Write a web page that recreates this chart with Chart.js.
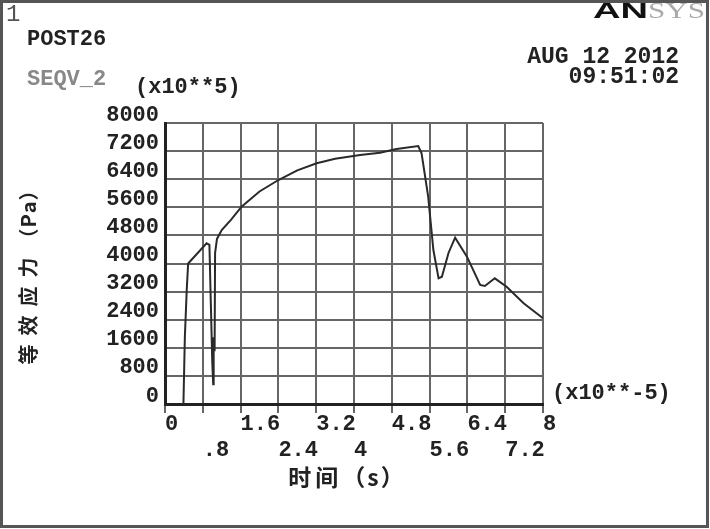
<!DOCTYPE html>
<html>
<head>
<meta charset="utf-8">
<script src="https://cdn.jsdelivr.net/npm/chart.js@4/dist/chart.umd.min.js"></script>
<style>
  body { margin: 0; background: #fff; }
  canvas { display: block; }
</style>
</head>
<body>
<canvas id="seqvChart" width="710" height="529"></canvas>
<script>
// time (x10**-5 s) and SEQV (x10**5 Pa)
const timeVals = [0.39, 0.42, 0.46, 0.49, 0.88, 0.94, 0.97, 1.00, 1.02, 1.03, 1.05, 1.06, 1.10, 1.20,
  1.40, 1.62, 2.0, 2.4, 2.8, 3.21, 3.6, 4.13, 4.55, 4.9, 5.36, 5.43, 5.57, 5.68, 5.79, 5.86, 6.0,
  6.14, 6.39, 6.67, 6.77, 6.98, 7.23, 7.59, 8.0];
const seqvVals = [0, 1900, 3250, 4000, 4575, 4530, 2870, 1200, 560, 1900, 1500, 4300, 4700, 4950,
  5250, 5617, 6050, 6377, 6650, 6853, 6980, 7089, 7155, 7260, 7345, 7137, 5902, 4384, 3578, 3624, 4300,
  4735, 4194, 3388, 3359, 3578, 3340, 2867, 2440];

const xTickVals = [0, 0.8, 1.6, 2.4, 3.2, 4, 4.8, 5.6, 6.4, 7.2, 8];
const xTickLabels = ["0", ".8", "1.6", "2.4", "3.2", "4", "4.8", "5.6", "6.4", "7.2", "8"];
const yTickVals = [0, 800, 1600, 2400, 3200, 4000, 4800, 5600, 6400, 7200, 8000];
const yTickLabels = ["0", "800", "1600", "2400", "3200", "4000", "4800", "5600", "6400", "7200", "8000"];

const mono = '"Liberation Mono", "Courier New", monospace';
const cjk = '"Noto Sans CJK SC", sans-serif';

function fillScaled(ctx, text, x, y, w) {
  const m = ctx.measureText(text).width;
  ctx.save();
  ctx.translate(x, y);
  ctx.scale(w / m, 1);
  ctx.fillText(text, 0, 0);
  ctx.restore();
}

// draws [text, spacing] pieces one char at a time, centred on 0
function fillSpaced(ctx, pieces) {
  let total = 0;
  pieces.forEach(([t, sp]) => {
    for (const ch of t) total += ctx.measureText(ch).width + sp;
  });
  let x = -total / 2;
  ctx.textAlign = "left";
  pieces.forEach(([t, sp]) => {
    for (const ch of t) {
      ctx.fillText(ch, x, 0);
      x += ctx.measureText(ch).width + sp;
    }
  });
}

const annot = {
  id: "annot",
  afterDraw(chart) {
    const ctx = chart.ctx;
    ctx.save();
    // frame
    ctx.strokeStyle = "#555";
    ctx.lineWidth = 3;
    ctx.strokeRect(1.5, 1.5, 706, 525);

    ctx.textBaseline = "middle";
    ctx.textAlign = "left";
    ctx.fillStyle = "#555";
    ctx.font = "24px " + mono;
    ctx.fillText("1", 6, 15);

    ctx.fillStyle = "#222";
    ctx.font = "bold 22px " + mono;
    ctx.fillText("POST26", 27, 39);
    ctx.fillText("(x10**5)", 135, 87);
    ctx.fillText("(x10**-5)", 552, 393);
    ctx.fillStyle = "#888";
    ctx.fillText("SEQV_2", 27, 79);

    ctx.fillStyle = "#222";
    ctx.textAlign = "right";
    ctx.font = "bold 23px " + mono;
    ctx.fillText("AUG 12 2012", 679, 57);
    ctx.fillText("09:51:02", 679, 77);

    // logo
    ctx.textAlign = "left";
    ctx.textBaseline = "alphabetic";
    ctx.fillStyle = "#111";
    ctx.font = "bold 22px 'Liberation Sans', sans-serif";
    fillScaled(ctx, "AN", 593, 18, 55);
    ctx.fillStyle = "#aaa";
    ctx.font = "24px 'Liberation Serif', serif";
    fillScaled(ctx, "SYS", 648, 18, 57);

    // axis titles
    ctx.fillStyle = "#222";
    ctx.textBaseline = "middle";
    ctx.font = "bold 23px " + cjk;
    ctx.save();
    ctx.translate(347, 477);
    fillSpaced(ctx, [["时间", 4], ["（s）", 2]]);
    ctx.restore();
    ctx.font = "bold 20px " + cjk;
    ctx.save();
    ctx.translate(28, 272);
    ctx.rotate(-Math.PI / 2);
    fillSpaced(ctx, [["等效应力", 9], ["（Pa）", 1]]);
    ctx.restore();
    ctx.restore();
  }
};

const points = timeVals.map((t, i) => ({ x: t, y: seqvVals[i] }));

new Chart(document.getElementById("seqvChart").getContext("2d"), {
  type: "line",
  data: {
    datasets: [
      {
        label: "SEQV_2",
        data: points,
        borderColor: "#2a2a2a",
        borderWidth: 2,
        pointRadius: 0,
        tension: 0,
        fill: false,
      },
    ],
  },
  options: {
    responsive: false,
    animation: false,
    devicePixelRatio: 1,
    layout: { padding: { top: 123, right: 167, bottom: 0, left: 0 } },
    plugins: { legend: { display: false }, tooltip: { enabled: false } },
    scales: {
      x: {
        type: "linear",
        min: 0,
        max: 8,
        afterBuildTicks: (s) => { s.ticks = xTickVals.map((v) => ({ value: v })); },
        afterFit: (s) => { s.height = 125; },
        grid: { color: "#666", lineWidth: 2, drawTicks: true, tickLength: 9, tickColor: "#666", tickWidth: 2 },
        border: { color: "#222", width: 3 },
        ticks: {
          autoSkip: false,
          maxRotation: 0,
          align: "start",
          padding: -2,
          color: "#222",
          font: { family: mono, size: 22, weight: "bold" },
          callback: (v, i) => (i % 2 ? ["", xTickLabels[i]] : [xTickLabels[i], ""]),
        },
      },
      y: {
        min: 0,
        max: 8000,
        afterBuildTicks: (s) => { s.ticks = yTickVals.map((v) => ({ value: v })); },
        afterFit: (s) => { s.width = 165; },
        grid: { color: "#666", lineWidth: 2, drawTicks: false },
        border: { color: "#222", width: 3 },
        ticks: {
          autoSkip: false,
          padding: 6,
          labelOffset: -8,
          color: "#222",
          font: { family: mono, size: 22, weight: "bold" },
          callback: (v, i) => yTickLabels[i],
        },
      },
    },
  },
  plugins: [annot],
});
</script>
</body>
</html>
